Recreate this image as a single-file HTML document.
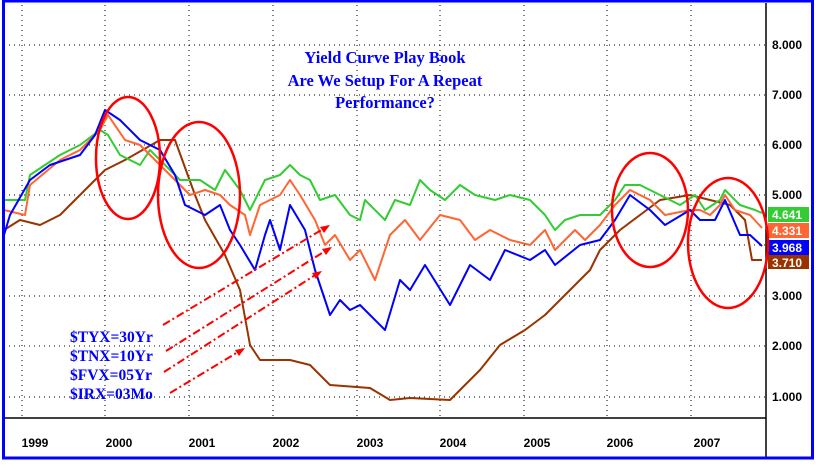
<!DOCTYPE html>
<html><head><meta charset="utf-8"><style>
body{margin:0;background:#fff;}
svg{display:block;font-family:"Liberation Sans",sans-serif;}
</style></head><body>
<svg width="816" height="469" viewBox="0 0 816 469">
<rect x="0" y="0" width="816" height="469" fill="#fff"/>
<g stroke="#000" stroke-width="1" stroke-dasharray="1,4">
<line x1="4" y1="45" x2="765" y2="45"/><line x1="4" y1="95" x2="765" y2="95"/><line x1="4" y1="145" x2="765" y2="145"/><line x1="4" y1="195" x2="765" y2="195"/><line x1="4" y1="245" x2="765" y2="245"/><line x1="4" y1="296" x2="765" y2="296"/><line x1="4" y1="346" x2="765" y2="346"/><line x1="4" y1="397" x2="765" y2="397"/>
<line x1="22" y1="5" x2="22" y2="418"/><line x1="105" y1="5" x2="105" y2="418"/><line x1="189" y1="5" x2="189" y2="418"/><line x1="273" y1="5" x2="273" y2="418"/><line x1="357" y1="5" x2="357" y2="418"/><line x1="440" y1="5" x2="440" y2="418"/><line x1="524" y1="5" x2="524" y2="418"/><line x1="607" y1="5" x2="607" y2="418"/><line x1="691" y1="5" x2="691" y2="418"/>
</g>
<line x1="4" y1="418" x2="766" y2="418" stroke="#000" stroke-width="1.5"/>
<line x1="766" y1="3" x2="766" y2="458" stroke="#000" stroke-width="1.5"/>
<g font-size="12" font-weight="bold" fill="#000">
<text x="35" y="447" text-anchor="middle">1999</text><text x="119" y="447" text-anchor="middle">2000</text><text x="202" y="447" text-anchor="middle">2001</text><text x="286" y="447" text-anchor="middle">2002</text><text x="370" y="447" text-anchor="middle">2003</text><text x="453" y="447" text-anchor="middle">2004</text><text x="537" y="447" text-anchor="middle">2005</text><text x="620" y="447" text-anchor="middle">2006</text><text x="707" y="447" text-anchor="middle">2007</text>
<text x="772" y="49">8.000</text><text x="772" y="99">7.000</text><text x="772" y="149">6.000</text><text x="772" y="199">5.000</text><text x="772" y="300">3.000</text><text x="772" y="350">2.000</text><text x="772" y="401">1.000</text>
</g>
<g font-size="12" font-weight="bold" fill="#fff">
<rect x="768" y="207" width="41" height="15" fill="#33cc33"/><text x="772" y="219">4.641</text>
<rect x="768" y="223" width="41" height="15" fill="#ff6633"/><text x="772" y="235">4.331</text>
<rect x="768" y="240" width="41" height="15" fill="#0000ff"/><text x="772" y="252">3.968</text>
<rect x="768" y="255" width="41" height="14" fill="#993300"/><text x="772" y="267">3.710</text>
</g>
<g fill="none" stroke-width="2" stroke-linejoin="round">
<polyline stroke="#993300" points="4,230 20,220 40,225 60,215 90,185 105,170 125,160 160,140 175,140 195,195 205,220 225,255 240,290 250,345 260,360 290,360 310,365 330,385 370,388 390,400 410,398 450,400 465,385 480,370 500,345 525,330 545,315 565,295 580,280 590,270 600,250 620,230 640,215 660,200 690,195 710,200 730,205 745,220 752,260 762,260"/>
<polyline stroke="#33cc33" points="4,200 25,200 30,175 60,155 80,145 100,130 108,135 120,155 140,165 150,150 160,160 180,180 200,180 215,190 225,170 240,190 250,210 265,180 280,175 290,165 300,175 310,180 320,200 335,195 350,215 360,220 365,200 385,220 395,200 410,205 420,180 430,190 445,200 460,185 475,195 495,200 510,195 530,200 545,215 555,230 565,220 580,215 600,215 615,200 625,185 640,185 660,195 680,205 695,195 705,210 720,200 725,190 740,205 755,210 762,213"/>
<polyline stroke="#ff6633" points="4,210 25,215 30,185 60,160 80,150 100,130 108,115 125,140 140,145 160,165 175,180 190,195 205,190 220,195 230,205 245,215 250,235 260,205 280,195 290,180 300,195 315,220 325,245 335,235 350,260 360,250 375,280 390,235 405,220 420,240 440,215 460,220 475,240 490,230 510,240 530,245 545,230 555,250 575,230 585,240 600,225 615,205 630,190 650,200 665,215 690,210 700,210 710,215 720,205 725,195 735,210 750,215 762,228"/>
<polyline stroke="#0000ff" points="4,235 10,215 30,180 50,165 80,155 95,135 105,110 120,120 140,140 160,150 175,175 185,205 205,215 220,205 230,230 240,245 255,270 265,235 270,220 280,250 290,205 305,230 315,270 330,315 340,300 350,310 360,305 385,330 400,280 410,290 425,265 450,305 470,265 490,280 505,250 530,260 545,250 555,265 580,245 600,240 615,220 630,195 650,210 665,225 690,210 700,220 715,220 725,200 740,235 750,235 762,246"/>
</g>
<g fill="none" stroke="#ff0000" stroke-width="2.5">
<ellipse cx="128" cy="158" rx="32" ry="61"/>
<ellipse cx="199" cy="195" rx="41" ry="73"/>
<ellipse cx="650" cy="210" rx="38" ry="57"/>
<ellipse cx="728" cy="243" rx="40" ry="65"/>
</g>
<g stroke="#ff0000" stroke-width="2" stroke-dasharray="8,3,2,3" fill="#ff0000">
<line x1="163" y1="325" x2="328" y2="226"/>
<line x1="166" y1="351" x2="330" y2="248"/>
<line x1="164" y1="372" x2="320" y2="272"/>
<line x1="170" y1="393" x2="243" y2="349"/>
</g>
<g fill="#ff0000">
<polygon points="330,225 320,227 324,233"/><polygon points="332,247 322,249 326,255"/><polygon points="322,271 312,273 316,279"/><polygon points="245,348 235,350 239,356"/>
</g>
<g font-family="Liberation Serif,serif" font-weight="bold" fill="#0000ff">
<text x="385" y="63" font-size="16.5" text-anchor="middle">Yield Curve Play Book</text>
<text x="385" y="86" font-size="16.5" text-anchor="middle">Are We Setup For A Repeat</text>
<text x="385" y="108" font-size="16.5" text-anchor="middle">Performance?</text>
<text x="70" y="342" font-size="15.5">$TYX=30Yr</text>
<text x="70" y="361" font-size="15.5">$TNX=10Yr</text>
<text x="70" y="380" font-size="15.5">$FVX=05Yr</text>
<text x="70" y="399" font-size="15.5">$IRX=03Mo</text>
</g>
<rect x="3.5" y="1" width="809" height="457" fill="none" stroke="#0000ff" stroke-width="3"/>
</svg>
</body></html>
